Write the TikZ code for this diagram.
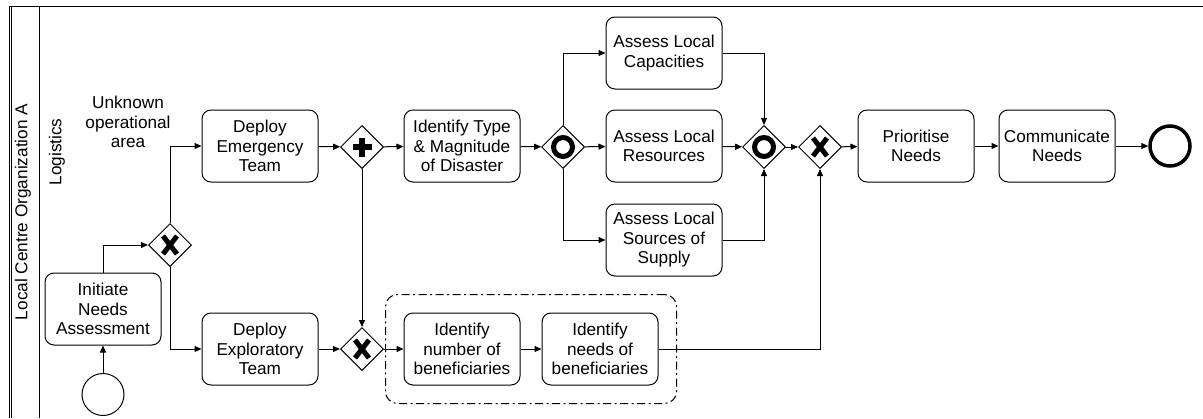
\documentclass[tikz,border=0pt]{standalone}
\usepackage{fontspec}
\setmainfont{Liberation Sans}
\usetikzlibrary{positioning,shapes.geometric,arrows.meta,fit}

\tikzset{
	task/.style={draw,line width=1pt,rounded corners=9pt,minimum width=116pt,minimum height=72pt,align=center,inner sep=2pt},
	gate/.style={draw,line width=1pt,diamond,minimum size=43pt,inner sep=0pt},
	xgate/.style={gate,path picture={\draw[line width=5pt]
		(path picture bounding box.center)+(-7,-9)--+(7,9)
		(path picture bounding box.center)+(-7,9)--+(7,-9);}},
	pgate/.style={gate,path picture={\draw[line width=5.5pt]
		(path picture bounding box.center)+(-9.5,0)--+(9.5,0)
		(path picture bounding box.center)+(0,-9.5)--+(0,9.5);}},
	ogate/.style={gate,path picture={\draw[line width=5pt]
		(path picture bounding box.center) circle (9.5);}},
	flow/.style={line width=1pt,-{Triangle[length=7pt,width=6pt]}},
	group/.style={draw,line width=1pt,rounded corners=12pt,dash pattern=on 8pt off 3.5pt on 2pt off 3.5pt,inner sep=18pt}
}

\begin{document}
\begin{tikzpicture}[x=1pt,y=-1pt,font=\fontsize{17.2}{19.5}\selectfont]
\useasboundingbox (0,0) rectangle (1203,418);

% pool and lane
\draw[line width=1pt](9,6)--(1203,6);
\draw[line width=0.8pt](9,6)--(9,418);
\draw[line width=0.8pt](11.5,6)--(11.5,418);
\draw[line width=1pt](39,6)--(39,418);
\node[rotate=90] (pool) at (23,212) {Local Centre Organization A};
\node[rotate=90] (lane) at (57,152) {Logistics};
\node[align=center] (area) at (128,122) {Unknown\\operational\\area};

% events
\node[draw,circle,line width=1pt,minimum size=42pt,inner sep=0pt] (start) at (103,394.5) {};
\node[draw,circle,line width=3.5pt,minimum size=40pt,inner sep=0pt] (stop) at (1170,146) {};

% tasks
\foreach \x/\y/\n/\t in {103/309/init/{Initiate\\Needs\\Assessment},
	260/146/deployE/{Deploy\\Emergency\\Team},
	260/349/deployX/{Deploy\\Exploratory\\Team},
	462/146/identT/{Identify Type\\\& Magnitude\\of Disaster},
	462/349/identN/{Identify\\number of\\beneficiaries},
	600/349/identB/{Identify\\needs of\\beneficiaries},
	664/53/capac/{Assess Local\\Capacities},
	664/146/resrc/{Assess Local\\Resources},
	664/240/supply/{Assess Local\\Sources of\\Supply},
	916/146/prior/{Prioritise\\Needs},
	1057/146/comm/{Communicate\\Needs}}
	\node[task] (\n) at (\x,\y) {\t};

% gateways
\node[xgate] (xsplit) at (170,245) {};
\node[pgate] (andg) at (362,147) {};
\node[xgate] (xmerge) at (362,349) {};
\node[ogate] (or1) at (563,147) {};
\node[ogate] (or2) at (764,147) {};
\node[xgate] (xjoin) at (820,147) {};

\node[group,fit=(identN)(identB)] (subproc) {};

% flows
\draw[flow](start)--(init);
\draw[flow](init.north)|-(xsplit.west);
\draw[flow](xsplit.north)|-(deployE.west);
\draw[flow](xsplit.south)|-(deployX.west);
\foreach \a/\b in {deployE/andg,deployX/xmerge,andg/identT,identT/or1,or1/resrc,resrc/or2,or2/xjoin,xmerge/identN,identN/identB,xjoin/prior,prior/comm,comm/stop}
	\draw[flow](\a)--(\b);
\draw[flow](andg.south)--(xmerge.north);
\draw[flow](or1.north)|-(capac.west);
\draw[flow](or1.south)|-(supply.west);
\draw[flow](capac.east)-|(or2.north);
\draw[flow](supply.east)-|(or2.south);
\draw[flow](identB.east)-|(xjoin.south);

\end{tikzpicture}
\end{document}
